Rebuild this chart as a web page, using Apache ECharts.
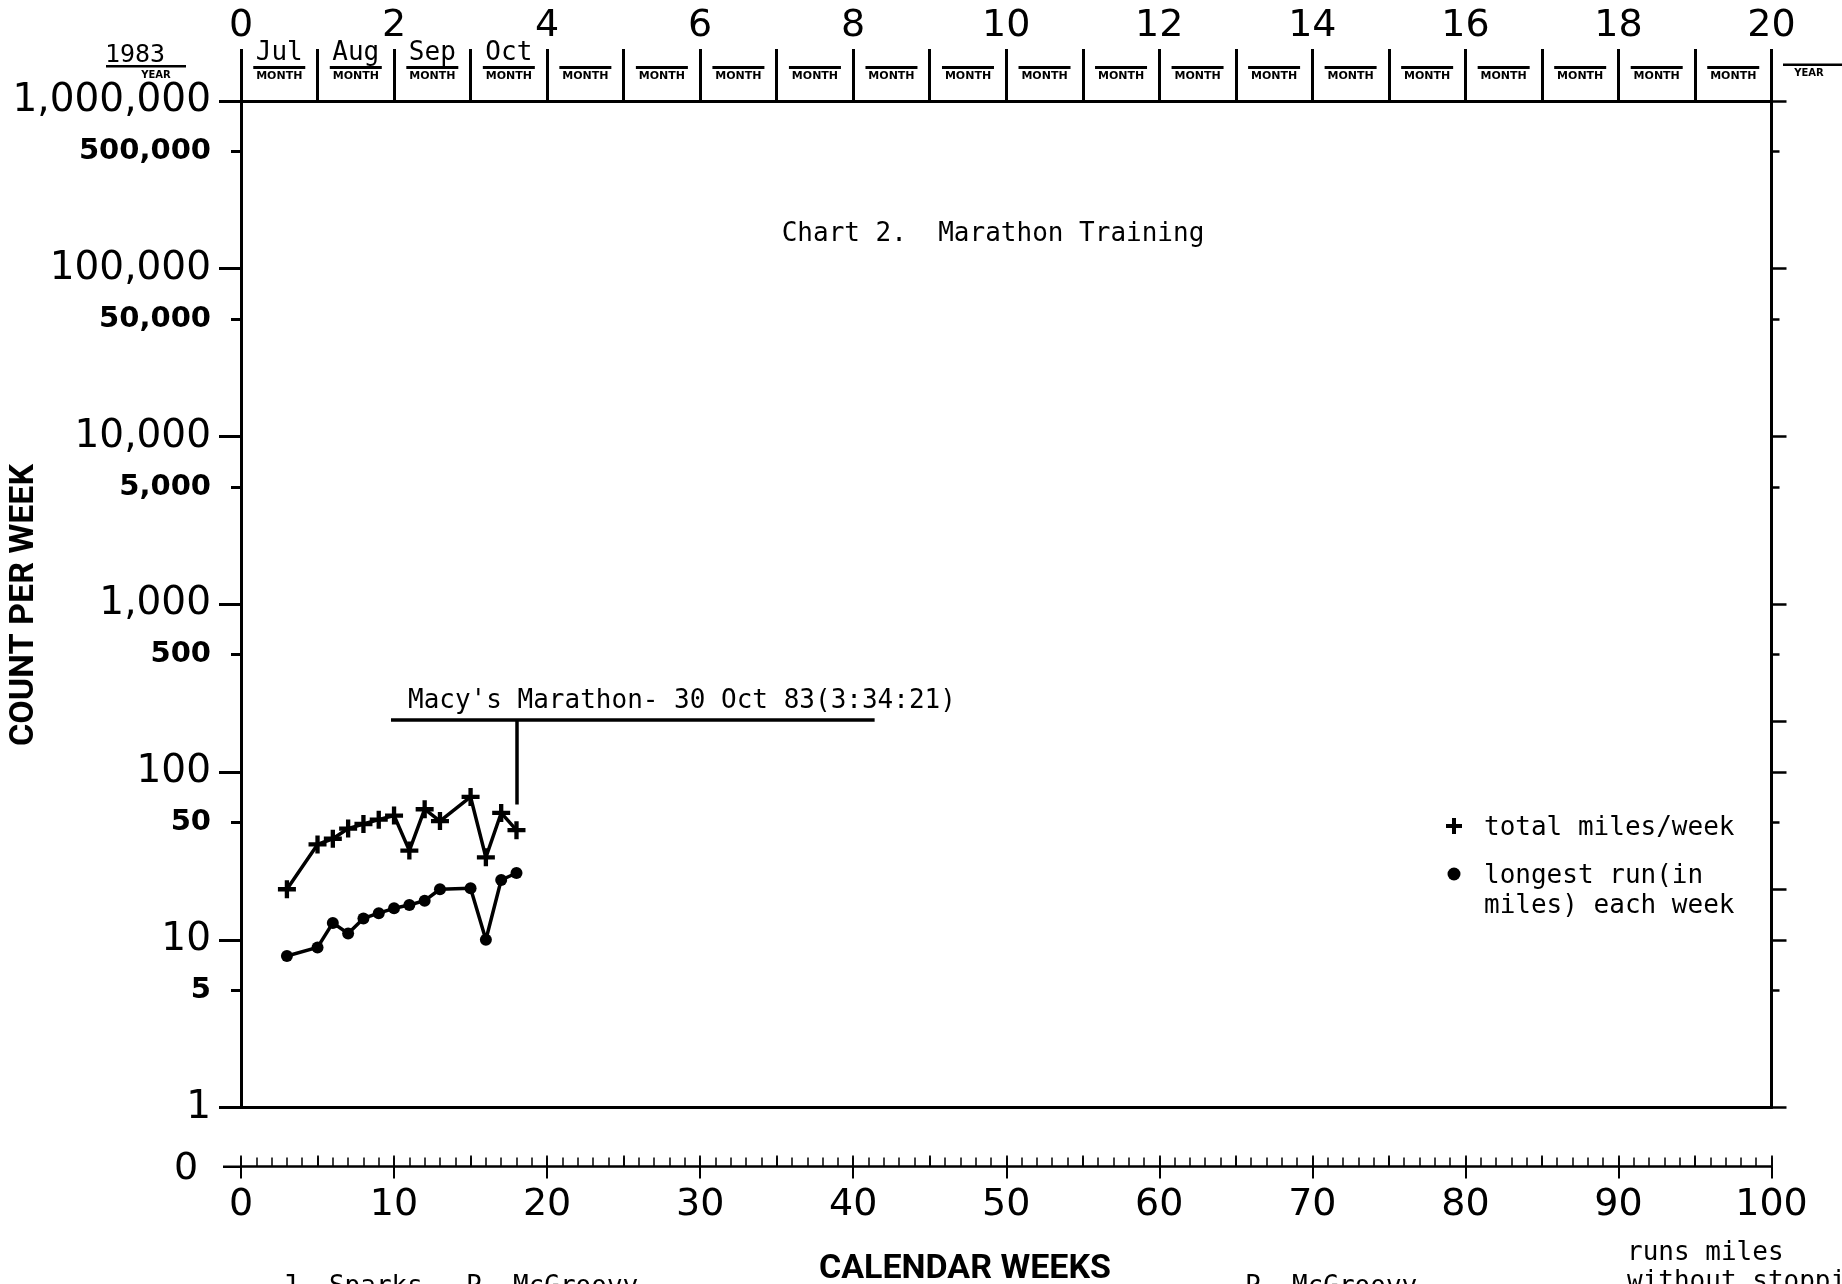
<!DOCTYPE html>
<html><head><meta charset="utf-8">
<script src="https://cdn.jsdelivr.net/npm/echarts@6/dist/echarts.min.js"></script>
<style>html,body{margin:0;padding:0;background:#fff}#c{width:1842px;height:1284px}</style>
</head><body><div id="c"></div>
<script>
// ---- data ----
const weeks = [3, 5, 6, 7, 8, 9, 10, 11, 12, 13, 15, 16, 17, 18];
const totalMiles = [20, 37, 40, 46, 49, 52, 55, 34, 60, 51, 71, 31, 57, 45];
const longestRun = [8, 9, 12.6, 10.9, 13.4, 14.4, 15.4, 16.1, 17.1, 20, 20.3, 10, 22.7, 25];
const majorCounts = [1, 10, 100, 1000, 10000, 100000, 1000000];
const minorCounts = [5, 50, 500, 5000, 50000, 500000];
const extraRightTicks = [20, 200];
const monthNames = ['Jul', 'Aug', 'Sep', 'Oct', '', '', '', '', '', '', '', '', '', '', '', '', '', '', '', ''];
const monthCenters = monthNames.map((_, i) => i + 0.5);
const marathonText = "Macy's Marathon- 30 Oct 83(3:34:21)";
const marathonWeek = 18;
const marathonFrom = 9.8, marathonTo = 41.4, marathonLevel = 205, marathonBottom = 64;

const MONO = "'DejaVu Sans Mono', monospace";
const NUM = "'DejaVu Sans', sans-serif";
const HEAD = "Roboto, 'DejaVu Sans', sans-serif";
const BLACK = '#000';
const plusPath = 'path://M3.8,0 H6.2 V3.8 H10 V6.2 H6.2 V10 H3.8 V6.2 H0 V3.8 H3.8 Z';

const chart = echarts.init(document.getElementById('c'), null, {renderer: 'canvas'});

function baseX(extra) {
  return Object.assign({
    type: 'value', min: 0, max: 100, gridIndex: 0,
    splitLine: {show: false},
    axisLine: {show: false, onZero: false, lineStyle: {color: BLACK, width: 3}},
    axisTick: {show: false},
    axisLabel: {show: false}
  }, extra);
}
function baseY(extra) {
  return Object.assign({
    type: 'log', logBase: 10, min: 1, max: 1000000, gridIndex: 0,
    splitLine: {show: false},
    axisLine: {show: false, onZero: false, lineStyle: {color: BLACK, width: 3}},
    axisTick: {show: false},
    axisLabel: {show: false}
  }, extra);
}
const fmt = v => Math.round(v).toLocaleString('en-US');
const txt = (x, y, text, font, align, extra) => Object.assign({type: 'text', x: x, y: y,
  style: {text: text, font: font, fill: BLACK, align: align || 'left', verticalAlign: 'middle'}}, extra || {});

const option = {
  animation: false,
  backgroundColor: '#fff',
  textStyle: {fontFamily: NUM, color: BLACK},
  grid: {left: 241, right: 70.5, top: 101, bottom: 176.5, containLabel: false, outerBoundsMode: 'none'},
  xAxis: [
    baseX({position: 'bottom', offset: 59, interval: 10,
      axisLine: {show: true, onZero: false, lineStyle: {color: BLACK, width: 2.5}},
      axisTick: {show: true, inside: false, length: 12, lineStyle: {color: BLACK, width: 2}},
      axisLabel: {show: true, margin: 20, fontSize: 38, fontFamily: NUM, color: BLACK, showMinLabel: true, showMaxLabel: true}}),
    baseX({position: 'bottom', offset: 59, interval: 1,
      axisTick: {show: true, inside: true, length: 9, lineStyle: {color: BLACK, width: 1.5}}}),
    baseX({position: 'bottom', offset: 59, interval: 5,
      axisTick: {show: true, inside: true, length: 11, lineStyle: {color: BLACK, width: 1.8}}}),
    baseX({position: 'bottom', offset: 0, interval: 10,
      axisLine: {show: true, onZero: false, lineStyle: {color: BLACK, width: 3}}}),
    baseX({position: 'top', max: 20, interval: 2,
      axisLine: {show: true, onZero: false, lineStyle: {color: BLACK, width: 3}},
      axisLabel: {show: true, margin: 56, fontSize: 38, fontFamily: NUM, color: BLACK, showMinLabel: true, showMaxLabel: true}}),
    baseX({position: 'top', max: 20, interval: 1,
      axisTick: {show: true, inside: false, length: 52, lineStyle: {color: BLACK, width: 3}}}),
    baseX({position: 'top', max: 20, interval: 1,
      axisLabel: {show: true, margin: 17, customValues: monthCenters,
        formatter: v => '{m|' + (monthNames[Math.floor(v)] || ' ') + '}\n{u|}\n{s|MONTH}',
        rich: {
          m: {fontFamily: MONO, fontSize: 26, lineHeight: 25, color: BLACK, align: 'center'},
          u: {width: 52, height: 3, lineHeight: 3, backgroundColor: BLACK, align: 'center'},
          s: {fontFamily: NUM, fontWeight: 'bold', fontSize: 11, lineHeight: 15, color: BLACK, align: 'center'}
        }}})
  ],
  yAxis: [
    baseY({position: 'left',
      axisLine: {show: true, onZero: false, lineStyle: {color: BLACK, width: 3}},
      axisTick: {show: true, inside: false, length: 22, customValues: majorCounts, lineStyle: {color: BLACK, width: 3}},
      axisLabel: {show: true, margin: 30, customValues: majorCounts, formatter: fmt, fontSize: 39, fontFamily: NUM, color: BLACK}}),
    baseY({position: 'left',
      axisTick: {show: true, inside: false, length: 10, customValues: minorCounts, lineStyle: {color: BLACK, width: 3}},
      axisLabel: {show: true, margin: 30, customValues: minorCounts, formatter: fmt, fontSize: 29, fontWeight: 'bold', fontFamily: NUM, color: BLACK}}),
    baseY({position: 'right',
      axisLine: {show: true, onZero: false, lineStyle: {color: BLACK, width: 3}},
      axisTick: {show: true, inside: false, length: 15, customValues: majorCounts.concat(extraRightTicks), lineStyle: {color: BLACK, width: 2.5}}}),
    baseY({position: 'right',
      axisTick: {show: true, inside: false, length: 8, customValues: minorCounts, lineStyle: {color: BLACK, width: 2.5}}})
  ],
  series: [
    {
      name: 'total miles/week', type: 'line', xAxisIndex: 0, yAxisIndex: 0,
      data: weeks.map((w, i) => [w, totalMiles[i]]),
      symbol: plusPath, symbolSize: 18, showAllSymbol: true,
      lineStyle: {color: BLACK, width: 3.5}, itemStyle: {color: BLACK},
      markLine: {
        silent: true, symbol: ['none', 'none'],
        lineStyle: {color: BLACK, width: 3.5, type: 'solid'},
        label: {show: false},
        data: [
          [{coord: [marathonFrom, marathonLevel],
            label: {show: true, formatter: marathonText, position: 'insideStartTop', distance: 5,
              padding: [0, 0, 0, 12], fontFamily: MONO, fontSize: 26, color: BLACK}},
           {coord: [marathonTo, marathonLevel]}],
          [{coord: [marathonWeek, marathonLevel]}, {coord: [marathonWeek, marathonBottom]}]
        ]
      }
    },
    {
      name: 'longest run', type: 'line', xAxisIndex: 0, yAxisIndex: 0,
      data: weeks.map((w, i) => [w, longestRun[i]]),
      symbol: 'circle', symbolSize: 12, showAllSymbol: true,
      lineStyle: {color: BLACK, width: 3.5}, itemStyle: {color: BLACK}
    }
  ],
  graphic: {elements: [
    txt(993, 234.5, 'Chart 2.  Marathon Training', '26px ' + MONO, 'center'),
    // year header left
    txt(135, 55, '1983', '25px ' + MONO, 'center'),
    {type: 'rect', shape: {x: 106, y: 65, width: 80, height: 2.5}, style: {fill: BLACK}},
    txt(156, 75.5, 'YEAR', 'bold 10px ' + NUM, 'center'),
    // year header right
    {type: 'rect', shape: {x: 1783, y: 63.5, width: 59, height: 2.5}, style: {fill: BLACK}},
    txt(1809, 73, 'YEAR', 'bold 10px ' + NUM, 'center'),
    // zero count label at the week axis
    txt(186, 1169, '0', '38px ' + NUM, 'center'),
    {type: 'rect', shape: {x: 223, y: 1165.5, width: 18, height: 2.5}, style: {fill: BLACK}},
    // legend
    {type: 'rect', shape: {x: 1446, y: 824, width: 16, height: 4}, style: {fill: BLACK}},
    {type: 'rect', shape: {x: 1452, y: 818, width: 4, height: 16}, style: {fill: BLACK}},
    txt(1484, 828, 'total miles/week', '26px ' + MONO),
    {type: 'circle', shape: {cx: 1454, cy: 874, r: 6.5}, style: {fill: BLACK}},
    txt(1484, 876, 'longest run(in', '26px ' + MONO),
    txt(1484, 906, 'miles) each week', '26px ' + MONO),
    // axis titles
    txt(965, 1269.5, 'CALENDAR WEEKS', 'bold 34px ' + HEAD, 'center'),
    txt(24, 605, 'COUNT PER WEEK', 'bold 34px ' + HEAD, 'center', {rotation: Math.PI / 2}),
    // footer (cut off by page edge)
    txt(282, 1287, 'J. Sparks', '26px ' + MONO),
    txt(466, 1287, 'P. McGroovy', '26px ' + MONO),
    txt(1245, 1287, 'P. McGroovy', '26px ' + MONO),
    txt(1627, 1253, 'runs miles', '26px ' + MONO),
    txt(1627, 1282, 'without stopping', '26px ' + MONO)
  ]}
};
chart.setOption(option);
</script></body></html>
